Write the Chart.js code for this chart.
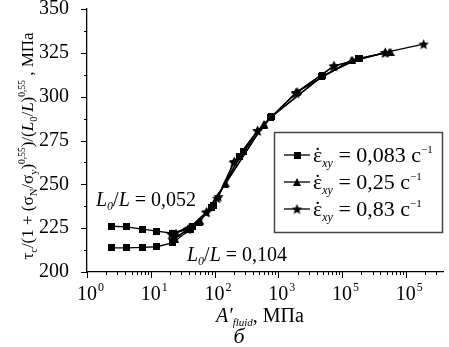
<!DOCTYPE html>
<html>
<head>
<meta charset="utf-8">
<script src="https://cdn.jsdelivr.net/npm/chart.js@4/dist/chart.umd.min.js"></script>
<style>
    html, body { margin: 0; padding: 0; background: #fff; }
    #wrap { width: 449px; height: 347px; }
</style>
</head>
<body>
<div id="wrap"><canvas id="chart" width="449" height="347"></canvas></div>
<script>
/* ================================
   DATA
================================ */
const rateLabels = ['0,083', '0,25', '0,83'];

// squares, eps = 0,083 c^-1
const sqUpperX = [2.4, 4.1, 7.4, 12.3, 22, 45, 95, 280, 780, 5000, 19000];
const sqUpperY = [226.1, 225.7, 224.4, 223.3, 222.1, 226, 238, 269, 288.6, 312, 322];
const sqLowerX = [2.4, 4.1, 7.4, 12.3, 22, 42, 90, 250, 750, 4800, 18000];
const sqLowerY = [213.8, 213.8, 214.0, 214.4, 216.6, 224.5, 237, 266, 288, 311.5, 321.8];

// triangles, eps = 0,25 c^-1
const triUpperX = [25, 60, 150, 600, 2000, 14500, 57600];
const triUpperY = [222.5, 229, 250.6, 284.5, 303, 321, 325.6];
const triLowerX = [24, 58, 145, 590, 1950, 14000, 55000];
const triLowerY = [219, 228.6, 250, 284, 302.6, 320.8, 325.5];

// stars, eps = 0,83 c^-1
const starUpperX = [21, 38, 75, 115, 205, 474, 1900, 7500, 48000, 190000];
const starUpperY = [221.5, 224.4, 234.3, 243, 263, 280.7, 302.4, 317.6, 325.2, 330];
const starLowerX = [22, 40, 74, 110, 200, 470, 1880, 7400, 47000];
const starLowerY = [218.5, 225, 234, 242, 262.5, 280.5, 302, 317.4, 325];

// tick labels as printed under the axis
const xTickValues = [1, 10, 100, 1000, 10000, 100000];
const xTickExp = ['0', '1', '2', '3', '5', '5'];
const yTicks = [200, 225, 250, 275, 300, 325, 350];

/* ================================
   HELPERS
================================ */
const SERIF = '"Liberation Serif", "Times New Roman", serif';

function pts(xs, ys) {
    return xs.map((x, i) => ({ x, y: ys[i] }));
}

// small filled marker images, used for points and legend
function marker(kind, size) {
    const c = document.createElement('canvas');
    c.width = c.height = size;
    const g = c.getContext('2d');
    const r = size / 2;
    g.fillStyle = '#000';
    g.beginPath();
    if (kind === 'square') {
        g.rect(0, 0, size, size);
    } else if (kind === 'triangle') {
        g.moveTo(r, 0);
        g.lineTo(size, size);
        g.lineTo(0, size);
    } else {
        for (let i = 0; i < 10; i++) {
            const a = -Math.PI / 2 + i * Math.PI / 5;
            const rr = i % 2 ? r * 0.45 : r;
            g.lineTo(r + rr * Math.cos(a), r + 0.5 + rr * Math.sin(a));
        }
    }
    g.closePath();
    g.fill();
    return c;
}

const sqImg = marker('square', 7);
const triImg = marker('triangle', 8);
const starImg = marker('star', 11);

function fontOf(p) {
    return (p[3] ? 'italic ' : '') + p[1] + 'px ' + SERIF;
}

// draws a run of text pieces [text, size, dy, italic]
function rich(ctx, parts, x, y, align) {
    let w = 0;
    parts.forEach(p => { ctx.font = fontOf(p); w += ctx.measureText(p[0]).width; });
    let cx = align === 'center' ? x - w / 2 : x;
    parts.forEach(p => {
        ctx.font = fontOf(p);
        ctx.fillText(p[0], cx, y + (p[2] || 0));
        cx += ctx.measureText(p[0]).width;
    });
    return w;
}

function ds(data, img) {
    return {
        data,
        borderColor: '#000',
        backgroundColor: '#000',
        borderWidth: 1.3,
        pointStyle: img,
        pointRadius: 4,
        tension: 0
    };
}

/* ================================
   AXIS TICKS, LABELS, TEXTS
================================ */
const decor = {
    id: 'decor',
    afterDraw(chart) {
        const { ctx, chartArea: a, scales: { x, y } } = chart;
        ctx.save();
        ctx.strokeStyle = '#000';
        ctx.fillStyle = '#000';
        ctx.lineWidth = 1;

        // x ticks (log, with minors)
        ctx.beginPath();
        for (let d = 0; d <= 5; d++) {
            for (let k = 1; k <= 9; k++) {
                const v = k * Math.pow(10, d);
                if (v > x.max) break;
                const px = Math.round(x.getPixelForValue(v)) + 0.5;
                ctx.moveTo(px, a.bottom);
                ctx.lineTo(px, a.bottom + (k === 1 ? 6 : 3));
            }
        }
        // y ticks, major + minor
        for (let v = 200; v <= 350; v += 12.5) {
            const py = Math.round(y.getPixelForValue(v)) + 0.5;
            ctx.moveTo(a.left, py);
            ctx.lineTo(a.left - (v % 25 === 0 ? 6 : 3), py);
        }
        ctx.stroke();

        // x tick labels 10^n
        ctx.textBaseline = 'alphabetic';
        xTickValues.forEach((v, i) => {
            const px = x.getPixelForValue(v);
            ctx.font = '20px ' + SERIF;
            const w = ctx.measureText('10').width;
            ctx.fillText('10', px - w / 2, 300);
            ctx.font = '12px ' + SERIF;
            ctx.fillText(xTickExp[i], px + w / 2 + 1, 291);
        });

        // y axis title (rotated)
        const yTitle = [
            ['τ', 17], ['c', 10.5, 4], ['/(1 + (σ', 17], ['N', 10.5, 4], ['/σ', 17], ['y', 10.5, 4],
            [')', 17], ['0,55', 9.5, -8], [')/(', 17], ['L', 17, 0, true], ['0', 10.5, 4],
            ['/', 17], ['L', 17, 0, true], [')', 17], ['0,55', 9.5, -8], [' , МПа', 17]
        ];
        ctx.save();
        ctx.translate(33, 146);
        ctx.rotate(-Math.PI / 2);
        rich(ctx, yTitle, 0, 0, 'center');
        ctx.restore();

        // x axis title and panel letter
        rich(ctx, [['A′', 20, 0, true], ['fluid', 11, 4, true], [', МПа', 20]], 260, 322, 'center');
        rich(ctx, [['б', 22, 0, true]], 239, 343, 'center');

        // curve annotations
        rich(ctx, [['L', 20, 0, true], ['0', 12, 4, true], ['/', 20], ['L', 20, 0, true], [' = 0,052', 20]], 96, 206);
        rich(ctx, [['L', 20, 0, true], ['0', 12, 4, true], ['/', 20], ['L', 20, 0, true], [' = 0,104', 20]], 187, 261);

        // legend box
        ctx.strokeStyle = '#444';
        ctx.lineWidth = 1.5;
        ctx.strokeRect(274.5, 132.5, 168, 100);
        const imgs = [sqImg, triImg, starImg];
        [155, 182, 209].forEach((cy, i) => {
            ctx.strokeStyle = '#000';
            ctx.lineWidth = 1.3;
            ctx.beginPath();
            ctx.moveTo(284, cy);
            ctx.lineTo(310, cy);
            ctx.stroke();
            const im = imgs[i];
            ctx.drawImage(im, 297 - im.width / 2, cy - im.height / 2);
            const base = cy + 7;
            ctx.font = '22px ' + SERIF;
            const ew = ctx.measureText('ε').width;
            ctx.fillText('ε', 313, base);
            ctx.fillText('˙', 313 + ew / 2 - ctx.measureText('˙').width / 2, base);
            rich(ctx, [
                ['xy', 12, 5, true],
                [' = ' + rateLabels[i] + ' c', 22], ['−1', 11, -9]
            ], 313 + ew, base);
        });
        ctx.restore();
    }
};

/* ================================
   CHART
================================ */
new Chart(document.getElementById('chart'), {
    type: 'line',
    data: {
        datasets: [
            ds(pts(sqUpperX, sqUpperY), sqImg),
            ds(pts(sqLowerX, sqLowerY), sqImg),
            ds(pts(triUpperX, triUpperY), triImg),
            ds(pts(triLowerX, triLowerY), triImg),
            ds(pts(starUpperX, starUpperY), starImg),
            ds(pts(starLowerX, starLowerY), starImg)
        ]
    },
    options: {
        responsive: false,
        animation: false,
        devicePixelRatio: 1,
        layout: { padding: { left: 0, top: 9, right: 4, bottom: 0 } },
        plugins: { legend: { display: false }, tooltip: { enabled: false } },
        scales: {
            x: {
                type: 'logarithmic',
                min: 1,
                max: 392000,
                ticks: { display: false },
                grid: { display: false },
                border: { display: true, color: '#000', width: 1.3 },
                afterFit: s => { s.height = 75; s.paddingLeft = 0; s.paddingRight = 0; }
            },
            y: {
                min: 200,
                max: 350,
                afterBuildTicks: s => { s.ticks = yTicks.map(v => ({ value: v })); },
                ticks: { color: '#000', padding: 10, font: { family: SERIF, size: 20 } },
                grid: { display: false },
                border: { display: true, color: '#000', width: 1.3 },
                afterFit: s => { s.width = 87; s.paddingTop = 0; s.paddingBottom = 0; }
            }
        }
    },
    plugins: [decor]
});
</script>
</body>
</html>
